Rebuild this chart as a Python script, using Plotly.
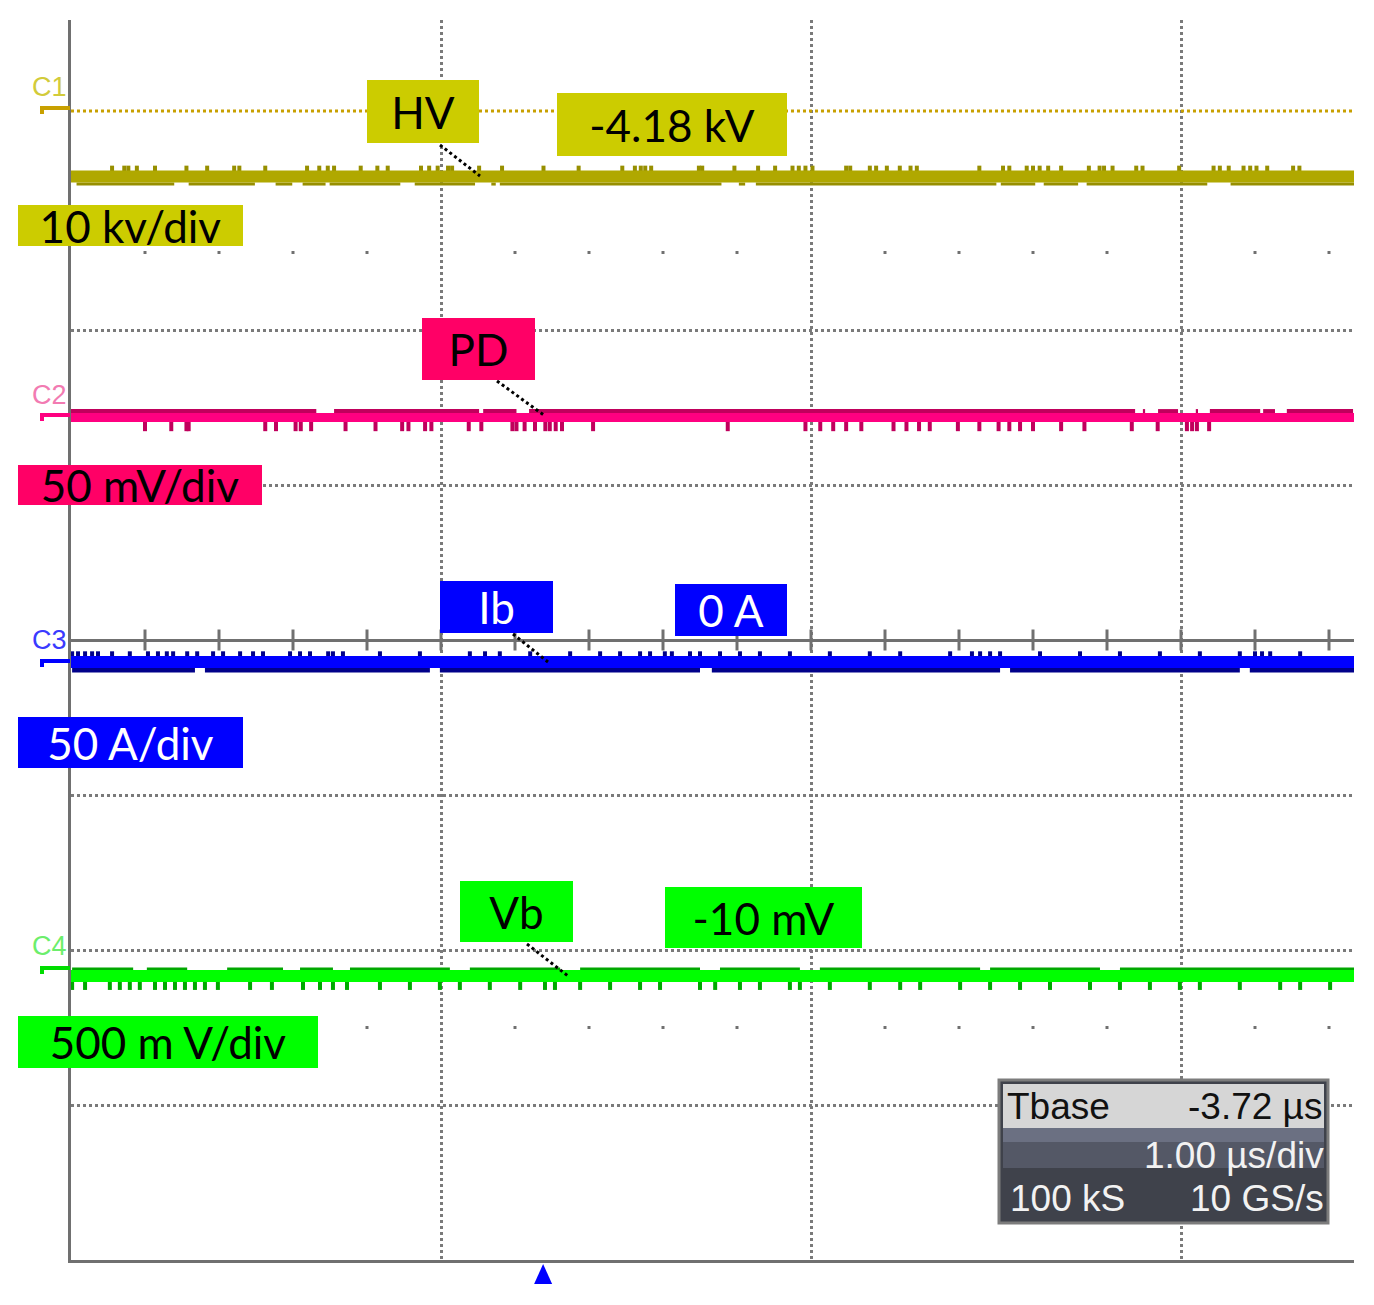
import plotly.graph_objects as go

# ---- screen readings (1 us per horizontal division, vertical in divisions) ----
channels = ['C1', 'C2', 'C3', 'C4']
names = ['HV', 'PD', 'Ib', 'Vb']
scales = ['10 kv/div', '50 mV/div', '50 A/div', '500 m V/div']
readouts = ['-4.18 kV', None, '0 A', '-10 mV']
trace_level = [2.99, 1.435, -0.142, -2.168]
c1_cursor = 3.413
tbase = '-3.72 µs'
timebase = '1.00 µs/div'
samples = '100 kS'
rate = '10 GS/s'
trigger_time = 1.276

# noise spikes / fringe pieces (us)
c1_up = [0.111, 0.144, 0.155, 0.178, 0.227, 0.312, 0.368, 0.441, 0.455, 0.525, 0.638, 0.671,
         0.694, 0.711, 0.783, 0.828, 0.856, 0.946, 0.968, 0.991, 1.019, 1.030, 1.103, 1.165,
         1.277, 1.372, 1.490, 1.524, 1.540, 1.552, 1.568, 1.697, 1.706, 1.793, 1.857, 1.903,
         1.950, 1.967, 1.985, 2.004, 2.095, 2.106, 2.159, 2.176, 2.205, 2.240, 2.269, 2.286,
         2.455, 2.519, 2.536, 2.583, 2.600, 2.618, 2.641, 2.676, 2.751, 2.780, 2.792, 2.815,
         2.879, 2.896, 2.995, 3.088, 3.105, 3.129, 3.169, 3.187, 3.204, 3.233, 3.303, 3.320]
c1_low = [[0.015, 0.279], [0.318, 0.497], [0.553, 0.598], [0.626, 0.688], [0.699, 0.890],
          [0.929, 1.092], [1.136, 1.148], [1.159, 1.758], [1.805, 1.822], [1.851, 2.501],
          [2.513, 2.606], [2.629, 2.722], [2.745, 3.071], [3.134, 3.468]]

c2_up = [[0.0, 0.663], [0.711, 1.103], [1.114, 1.204], [1.238, 2.876], [2.897, 2.903],
         [2.938, 2.992], [3.040, 3.046], [3.078, 3.214], [3.222, 3.254], [3.286, 3.465]]
c2_low = [0.200, 0.271, 0.312, 0.318, 0.525, 0.554, 0.607, 0.621, 0.649, 0.742, 0.823, 0.895,
          0.912, 0.957, 0.974, 1.075, 1.109, 1.193, 1.204, 1.226, 1.254, 1.282, 1.294, 1.310,
          1.327, 1.411, 1.775, 1.985, 2.025, 2.060, 2.095, 2.136, 2.223, 2.258, 2.292, 2.321,
          2.397, 2.455, 2.507, 2.536, 2.565, 2.600, 2.676, 2.739, 2.867, 2.937, 3.016, 3.030,
          3.043, 3.076]

c3_up = [0.003, 0.019, 0.038, 0.057, 0.073, 0.111, 0.159, 0.208, 0.235, 0.259, 0.276, 0.314,
         0.341, 0.384, 0.411, 0.457, 0.492, 0.519, 0.592, 0.619, 0.646, 0.695, 0.708, 0.735,
         0.835, 0.943, 1.078, 1.119, 1.159, 1.241, 1.349, 1.430, 1.484, 1.538, 1.565, 1.605,
         1.624, 1.673, 1.700, 1.754, 1.808, 1.862, 1.943, 2.051, 2.159, 2.241, 2.376, 2.435,
         2.457, 2.484, 2.511, 2.619, 2.727, 2.835, 2.943, 3.051, 3.159, 3.200, 3.219, 3.241,
         3.322]
c3_low = [[0.003, 0.335], [0.362, 0.970], [0.997, 1.700], [1.732, 2.511], [2.538, 3.159],
          [3.186, 3.468]]

c4_up = [[0.003, 0.168], [0.205, 0.314], [0.422, 0.573], [0.619, 0.708], [0.754, 1.024],
         [1.078, 1.322], [1.376, 1.700], [1.754, 1.970], [2.024, 2.457], [2.484, 2.781],
         [2.835, 3.468]]
c4_low = [0.003, 0.038, 0.105, 0.132, 0.159, 0.186, 0.227, 0.254, 0.281, 0.308, 0.335, 0.362,
          0.397, 0.484, 0.543, 0.627, 0.673, 0.708, 0.746, 0.835, 0.916, 0.997, 1.051, 1.132,
          1.214, 1.281, 1.308, 1.376, 1.457, 1.538, 1.592, 1.700, 1.741, 1.808, 1.862, 1.943,
          1.970, 2.051, 2.159, 2.241, 2.295, 2.403, 2.484, 2.565, 2.646, 2.754, 2.835, 2.916,
          2.997, 3.051, 3.159, 3.268, 3.322, 3.403]

subdiv = [0.2, 0.4, 0.6, 0.8, 1.2, 1.4, 1.6, 1.8, 2.2, 2.4, 2.6, 2.8, 3.2, 3.4]

# ---- screen geometry (page pixels; body has an 8px margin) ----
L, R, T, B = 71, 1354, 20, 1260
PX_X = 370.0   # px per division
PX_Y = 155.0
XMAX = (R - L) / PX_X


def px_x(px):
    return (px - L) / PX_X


def px_y(py):
    return (T + 4 * PX_Y - py) / PX_Y


def dy(px):
    return px / PX_Y


def pp_x(px):
    return (px - L) / (R - L)


def pp_y(py):
    return (B - py) / (B - T)


band_col = ['#b0a800', '#ff0080', '#0000ff', '#00ff00']
dark_col = ['#978f00', '#c0005c', '#00008a', '#00a800']
box_col = ['#cccc00', '#ff0066', '#0000ff', '#00ff00']
text_col = ['black', 'black', 'white', 'black']
tag_col = ['#d2cb3a', '#f27bb2', '#3a3aff', '#6cee6c']
flag_col = ['#c8a000', '#ff0080', '#0000ff', '#00dd00']


def segs(pieces, y):
    xs, ys = [], []
    for a, b in pieces:
        xs += [a, b, None]
        ys += [y, y, None]
    return xs, ys


fig = go.Figure()

# grid decorations on the centre line and half-division rows
fig.add_trace(go.Scatter(
    x=subdiv + [1, 2, 3], y=[0] * (len(subdiv) + 3), mode='markers',
    marker=dict(symbol='line-ns', size=15, line=dict(color='#707070', width=3)),
    hoverinfo='skip'))
fig.add_trace(go.Scatter(
    x=subdiv * 2, y=[2.5] * len(subdiv) + [-2.5] * len(subdiv), mode='markers',
    marker=dict(symbol='square', size=3, color='#707070', line=dict(width=0)),
    hoverinfo='skip'))

# C1 cursor level
fig.add_trace(go.Scatter(
    x=[0, XMAX], y=[c1_cursor, c1_cursor], mode='lines',
    line=dict(color='#c8a000', width=3, dash='dot'), hoverinfo='skip'))

# traces: spikes / fringes then the band
spec = [
    ('spike', c1_up, 6, 7, 'fringe', c1_low, -7.5, 3),
    ('fringe', c2_up, 6.5, 4, 'spike', c2_low, -8, 8),
    ('spike', c3_up, 6.5, 6, 'fringe', c3_low, -8, 5),
    ('fringe', c4_up, 7, 3, 'spike', c4_low, -9, 7),
]
band_w = [12, 9, 12, 12]
for i, lvl in enumerate(trace_level):
    for kind, vals, off, size in [spec[i][0:4], spec[i][4:8]]:
        if kind == 'spike':
            fig.add_trace(go.Scatter(
                x=vals, y=[lvl + dy(off)] * len(vals), mode='markers',
                marker=dict(symbol='line-ns', size=size,
                            line=dict(color=dark_col[i], width=4)),
                hoverinfo='skip'))
        else:
            xs, ys = segs(vals, lvl + dy(off))
            fig.add_trace(go.Scatter(
                x=xs, y=ys, mode='lines',
                line=dict(color=dark_col[i], width=size), hoverinfo='skip'))
    fig.add_trace(go.Scatter(
        x=[0, XMAX], y=[lvl, lvl], mode='lines',
        line=dict(color=band_col[i], width=band_w[i]), hoverinfo='skip'))

shapes = []
annotations = []

# trigger marker under the time axis
tx = pp_x(L + trigger_time * PX_X)
shapes.append(dict(type='path', xref='paper', yref='paper',
                   path='M {a},{y0} L {b},{y0} L {c},{y1} Z'.format(
                       a=tx - 9 / (R - L), b=tx + 9 / (R - L), c=tx,
                       y0=pp_y(1284), y1=pp_y(1264)),
                   fillcolor='#0000ff', line=dict(width=0)))

# channel flags on the left
flag_py = [108, 415, 661, 968]
for i, py in enumerate(flag_py):
    shapes.append(dict(type='line', xref='paper', yref='paper', x0=pp_x(40), x1=pp_x(70),
                       y0=pp_y(py), y1=pp_y(py), line=dict(color=flag_col[i], width=4)))
    shapes.append(dict(type='line', xref='paper', yref='paper', x0=pp_x(42), x1=pp_x(42),
                       y0=pp_y(py), y1=pp_y(py + 6), line=dict(color=flag_col[i], width=4)))

tag_py = [87, 395, 640, 946]
for i, name in enumerate(channels):
    annotations.append(dict(x=pp_x(49), y=pp_y(tag_py[i]), xref='paper', yref='paper',
                            xanchor='center', yanchor='middle',
                            text=name, showarrow=False,
                            font=dict(family='Liberation Sans', size=27, color=tag_col[i])))

# pointer lines from name boxes to traces
pointers = [(440, 145, 480, 176), (497, 381, 545, 416), (513, 634, 548, 662), (527, 944, 568, 976)]
for x0, y0, x1, y1 in pointers:
    shapes.append(dict(type='line', xref='paper', yref='paper', x0=pp_x(x0), y0=pp_y(y0),
                       x1=pp_x(x1), y1=pp_y(y1), layer='above',
                       line=dict(color='black', width=3, dash='dot')))


def box(text, x0, y0, x1, y1, bg, fg, size=44):
    return dict(x=pp_x(x0), y=pp_y(y0), xref='paper', yref='paper',
                xanchor='left', yanchor='top',
                width=x1 - x0, height=y1 - y0, bgcolor=bg, borderpad=0, borderwidth=0,
                text=text, showarrow=False, align='center', valign='middle',
                font=dict(family='Lato', size=size, color=fg))


name_box = [(367, 80, 479, 143), (422, 318, 535, 380), (440, 581, 553, 633), (460, 881, 573, 942)]
read_box = [(557, 93, 787, 156), None, (675, 584, 787, 636), (665, 887, 862, 948)]
scale_box = [(18, 205, 243, 246), (18, 465, 262, 505), (18, 717, 243, 768), (18, 1016, 318, 1068)]
for i in range(4):
    annotations.append(box(names[i], *name_box[i], box_col[i], text_col[i]))
    if readouts[i] is not None:
        annotations.append(box(readouts[i], *read_box[i], box_col[i], text_col[i]))
    annotations.append(box(scales[i], *scale_box[i], box_col[i], text_col[i]))

# timebase panel
panel = [
    (999, 1080, 1328, 1223, '#3f424b', '#7c7c7c', 3),
    (1003, 1084, 1324, 1128, '#d6d6d6', None, 0),
    (1003, 1128, 1324, 1142, '#6b7082', None, 0),
    (1003, 1142, 1324, 1168, '#545866', None, 0),
]
for x0, y0, x1, y1, fill, edge, lw in panel:
    shapes.append(dict(type='rect', xref='paper', yref='paper', x0=pp_x(x0), x1=pp_x(x1),
                       y0=pp_y(y0), y1=pp_y(y1), fillcolor=fill, layer='above',
                       line=dict(color=edge if edge else fill, width=lw)))


def ptext(text, px, py, anchor, color):
    return dict(x=pp_x(px), y=pp_y(py), xref='paper', yref='paper',
                xanchor=anchor, yanchor='middle', text=text, showarrow=False,
                font=dict(family='Liberation Sans', size=37, color=color))


annotations += [
    ptext('Tbase', 1005, 1106, 'left', '#111111'),
    ptext(tbase, 1324, 1106, 'right', '#111111'),
    ptext(timebase, 1326, 1155, 'right', '#f2f2f2'),
    ptext(samples, 1008, 1198, 'left', '#f2f2f2'),
    ptext(rate, 1326, 1198, 'right', '#f2f2f2'),
]

# page body keeps an 8px margin, so the figure is 8px smaller and margins shifted
fig.update_layout(
    width=1366, height=1297, autosize=False,
    margin=dict(l=L - 8, r=1374 - R - 8 + 8, t=T - 8, b=1305 - B, pad=0),
    paper_bgcolor='white', plot_bgcolor='white',
    showlegend=False,
    xaxis=dict(range=[0, XMAX], tickvals=[1, 2, 3], showticklabels=False, ticks='',
               showgrid=True, gridcolor='#7a7a7a', griddash='dot', gridwidth=2.5,
               zeroline=False, showline=True, linecolor='#707070', linewidth=3,
               fixedrange=True),
    yaxis=dict(range=[-4, 4], tickvals=[-3, -2, -1, 1, 2, 3], showticklabels=False, ticks='',
               showgrid=True, gridcolor='#7a7a7a', griddash='dot', gridwidth=2.5,
               zeroline=True, zerolinecolor='#707070', zerolinewidth=3,
               showline=True, linecolor='#707070', linewidth=3, fixedrange=True),
    shapes=shapes,
    annotations=annotations,
)

fig.write_html("out.html")
